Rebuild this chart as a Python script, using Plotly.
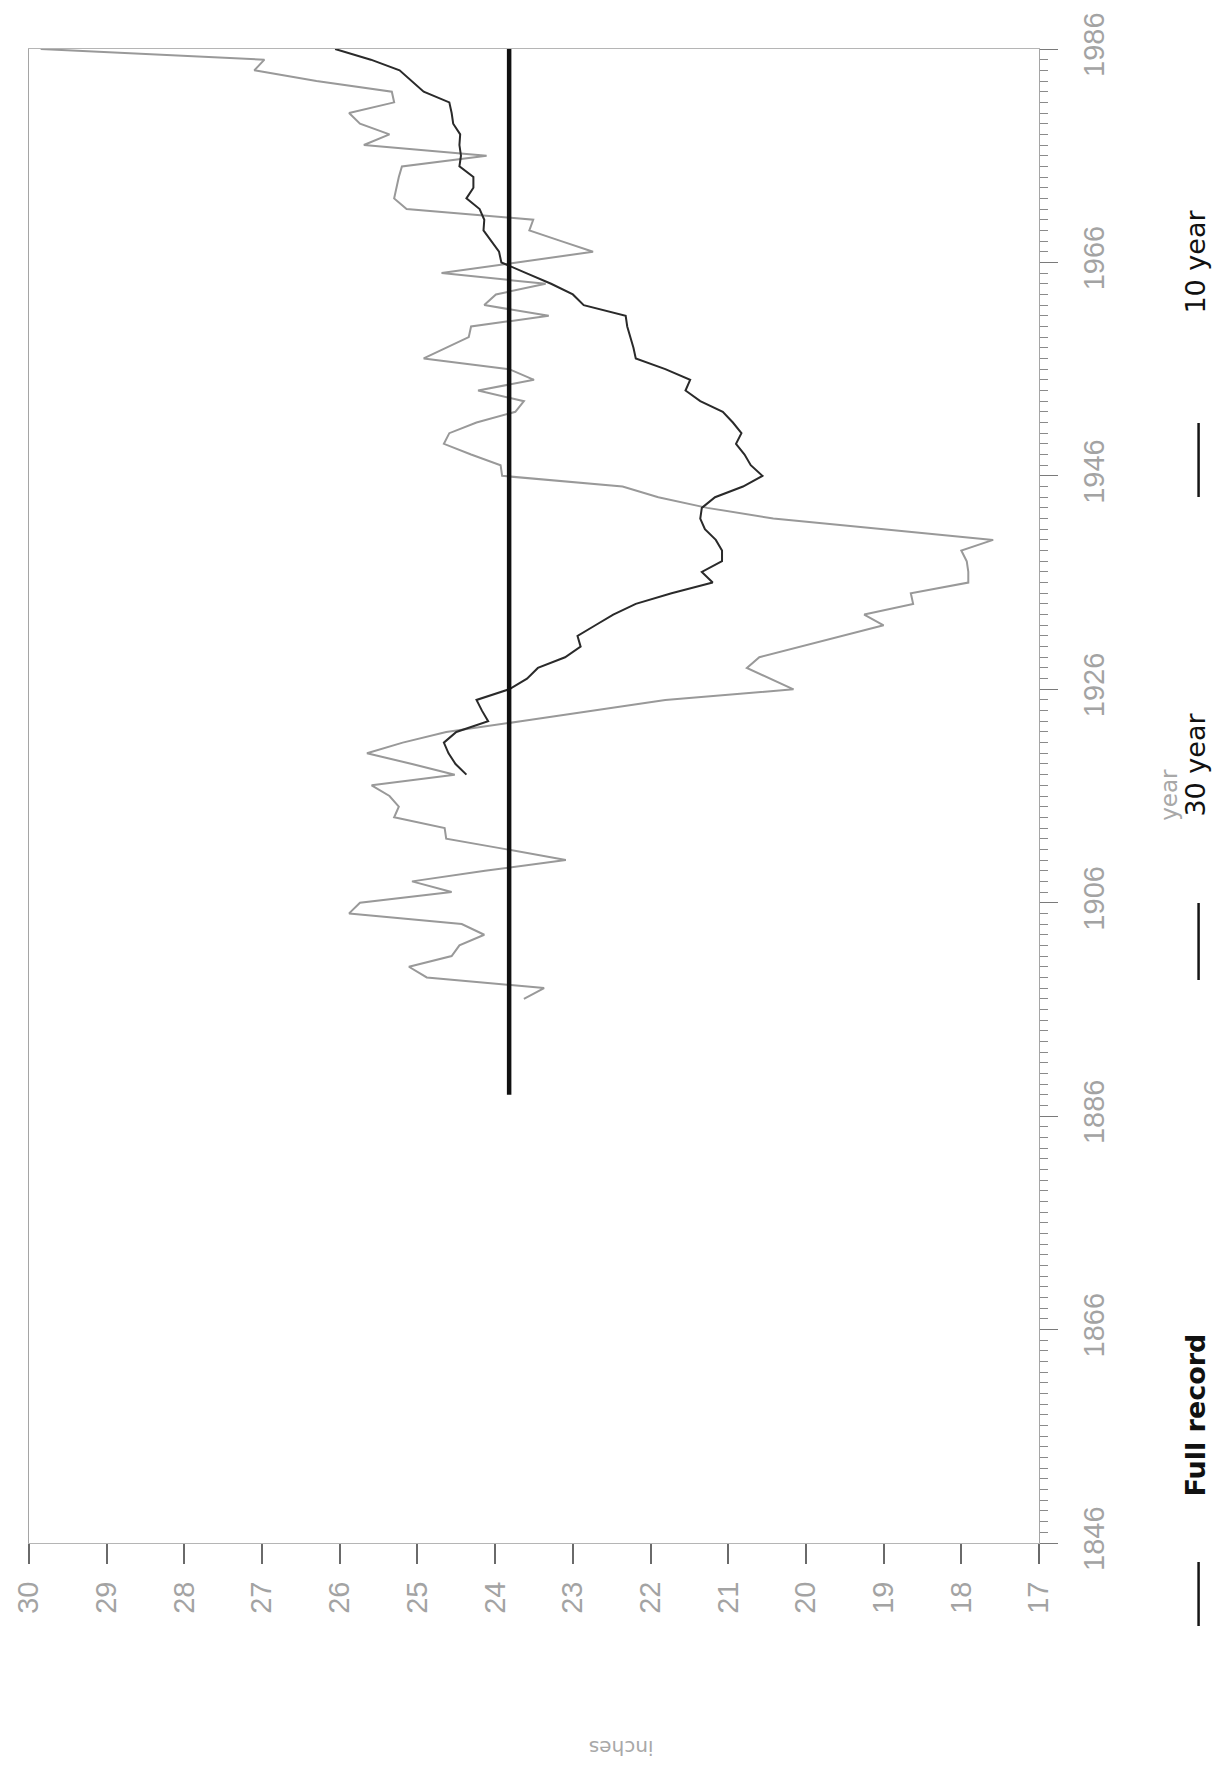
import plotly.graph_objects as go

# Annual precipitation running means (inches)
full_record_years = [1888, 1986]
full_record_mean = 23.82

ten_year_years = list(range(1897, 1987))
ten_year = [
    23.63, 23.37, 24.88, 25.11, 24.56, 24.46, 24.14, 24.43, 25.88, 25.74,  # 1897-1906
    24.56, 25.07, 24.13, 23.09, 23.85, 24.63, 24.65, 25.30, 25.24, 25.36,  # 1907-1916
    25.59, 24.52, 25.07, 25.65, 25.19, 24.63, 23.67, 22.71, 21.81, 20.16,  # 1917-1926
    20.47, 20.76, 20.60, 20.06, 19.53, 19.00, 19.25, 18.62, 18.65, 17.91,  # 1927-1936
    17.91, 17.93, 18.00, 17.59, 19.00, 20.42, 21.27, 21.90, 22.36, 23.91,  # 1937-1946
    23.93, 24.31, 24.66, 24.59, 24.24, 23.74, 23.63, 24.22, 23.50, 23.82,  # 1947-1956
    24.92, 24.63, 24.34, 24.31, 23.31, 24.14, 23.99, 23.35, 24.69, 23.72,  # 1957-1966
    22.74, 23.15, 23.56, 23.51, 25.14, 25.30, 25.27, 25.24, 25.20, 24.11,  # 1967-1976
    25.69, 25.36, 25.74, 25.88, 25.30, 25.33, 26.30, 27.10, 26.97, 29.85,  # 1977-1986
]

thirty_year_years = list(range(1918, 1987))
thirty_year = [
    24.37, 24.51, 24.60, 24.66, 24.50, 24.09, 24.17, 24.24, 23.82, 23.59,  # 1918-1927
    23.45, 23.10, 22.90, 22.94, 22.71, 22.48, 22.19, 21.73, 21.20, 21.34,  # 1928-1937
    21.08, 21.08, 21.16, 21.30, 21.36, 21.34, 21.17, 20.81, 20.56, 20.71,  # 1938-1947
    20.79, 20.90, 20.83, 20.94, 21.07, 21.36, 21.55, 21.49, 21.81, 22.19,  # 1948-1957
    22.22, 22.26, 22.30, 22.32, 22.86, 23.00, 23.28, 23.60, 23.92, 23.95,  # 1958-1967
    24.05, 24.15, 24.14, 24.20, 24.37, 24.28, 24.28, 24.46, 24.44, 24.46,  # 1968-1977
    24.45, 24.54, 24.56, 24.59, 24.92, 25.07, 25.23, 25.60, 26.06,         # 1978-1986
]

inch_ticks = list(range(17, 31))
year_ticks = list(range(1846, 1987, 20))

W, H = 1217, 1771
L, R, T, B = 20, 1039, 49, 1543  # plot area in pixels


def px(x):
    return (x - L) / (R - L)


def py(y):
    return (B - y) / (B - T)


fig = go.Figure()

fig.add_trace(go.Scatter(
    x=ten_year, y=ten_year_years, mode="lines",
    line=dict(color="#999999", width=2), showlegend=False))
fig.add_trace(go.Scatter(
    x=thirty_year, y=thirty_year_years, mode="lines",
    line=dict(color="#2a2a2a", width=2), showlegend=False))
fig.add_trace(go.Scatter(
    x=[full_record_mean, full_record_mean], y=full_record_years, mode="lines",
    line=dict(color="#111111", width=4.5), showlegend=False))

tick_font = dict(family="Liberation Sans", size=29, color="#a3a3a3")

fig.update_xaxes(
    range=[30, 17], tickvals=inch_ticks, ticktext=[str(v) for v in inch_ticks],
    tickangle=-90, ticks="outside", ticklen=20, tickwidth=2, tickcolor="#6a6a6a",
    tickfont=tick_font, ticklabelstandoff=6,
    showline=True, linecolor="#b5b5b5", linewidth=1, mirror=True,
    showgrid=False, zeroline=False,
)
fig.update_yaxes(
    range=[1846, 1986], side="right", tickvals=year_ticks,
    ticktext=[str(v) for v in year_ticks],
    tickangle=-90, ticks="outside", ticklen=18, tickwidth=1, tickcolor="#7a7a7a",
    tickfont=tick_font, ticklabelstandoff=11,
    minor=dict(dtick=1, tick0=1846, ticks="outside", ticklen=8, tickwidth=1,
               tickcolor="#8a8a8a", showgrid=False),
    showline=True, linecolor="#a5a5a5", linewidth=1, mirror=True,
    showgrid=False, zeroline=False,
)

annotations = []
shapes = []


def legend_item(label, text_x, text_y, line_y0, line_y1, bold=False, size=27):
    txt = f"<b>{label}</b>" if bold else label
    annotations.append(dict(
        x=px(text_x), y=py(text_y), xref="paper", yref="paper", text=txt,
        textangle=-90, showarrow=False, xanchor="center", yanchor="middle",
        font=dict(family="DejaVu Sans", size=size, color="#111111")))
    shapes.append(dict(
        type="line", xref="paper", yref="paper",
        x0=px(1200), x1=px(1200), y0=py(line_y0), y1=py(line_y1),
        line=dict(color="#151515", width=2.5)))


legend_item("10 year", 1196, 262, 423, 497)
legend_item("30 year", 1196, 765, 903, 980)
legend_item("Full record", 1196, 1415, 1562, 1626, bold=True, size=27)

# axis titles
annotations.append(dict(
    x=px(1170), y=py(795), xref="paper", yref="paper", text="year",
    textangle=-90, showarrow=False, xanchor="center", yanchor="middle",
    font=dict(family="DejaVu Sans", size=23, color="#a8a8a8")))
annotations.append(dict(
    x=px(617), y=py(1748), xref="paper", yref="paper", text="inches",
    textangle=180, showarrow=False, xanchor="center", yanchor="middle",
    font=dict(family="DejaVu Sans", size=20, color="#a8a8a8")))

fig.update_layout(
    width=W, height=H, autosize=False,
    margin=dict(l=L, r=W - R, t=T, b=H - B, pad=0),
    paper_bgcolor="white", plot_bgcolor="white",
    annotations=annotations, shapes=shapes, showlegend=False,
)

fig.write_html("out.html")
